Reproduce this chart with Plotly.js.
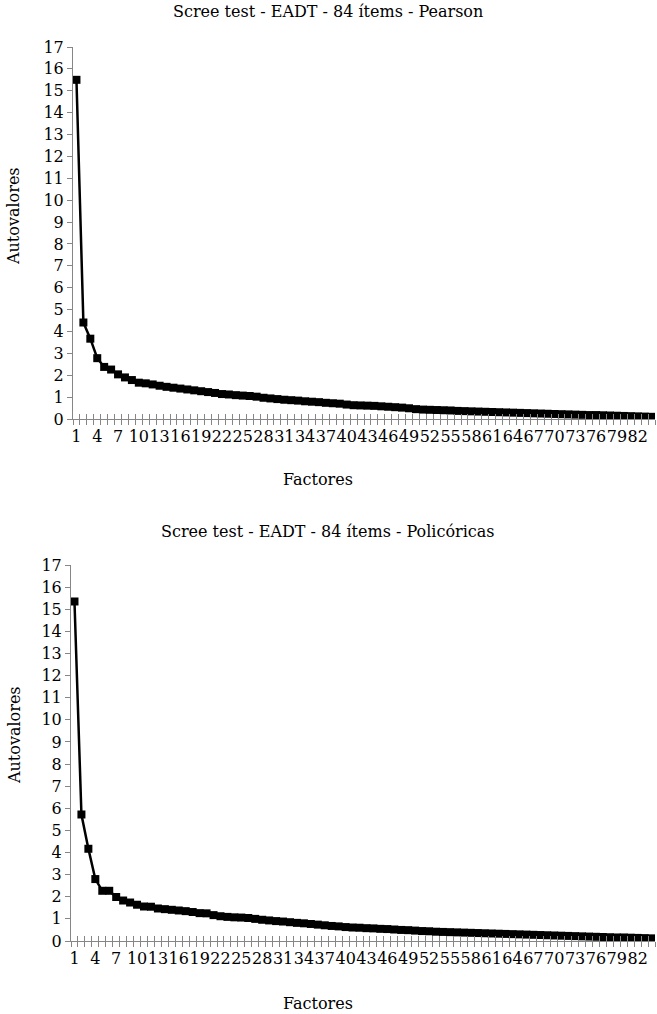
<!DOCTYPE html>
<html>
<head>
<meta charset="utf-8">
<script src="https://cdn.plot.ly/plotly-3.0.1.min.js"></script>
<style>html,body{margin:0;padding:0;background:#fff;}#chart{width:657px;height:1014px;}</style>
</head>
<body>
<div id="chart"></div>
<script>
// Factor numbers (categories)
const factors = [1,2,3,4,5,6,7,8,9,10,11,12,13,14,15,16,17,18,19,20,21,22,23,24,25,26,27,28,29,30,
  31,32,33,34,35,36,37,38,39,40,41,42,43,44,45,46,47,48,49,50,51,52,53,54,55,56,57,58,59,60,
  61,62,63,64,65,66,67,68,69,70,71,72,73,74,75,76,77,78,79,80,81,82,83,84];

// Eigenvalues - Pearson correlations
const pearson = [15.50,4.41,3.67,2.78,2.38,2.26,2.04,1.90,1.78,1.66,1.63,1.58,1.52,1.47,1.43,1.39,1.35,1.31,1.27,1.23,
  1.19,1.14,1.12,1.09,1.07,1.05,1.02,0.97,0.94,0.91,0.88,0.86,0.84,0.81,0.79,0.77,0.74,0.72,0.70,0.66,
  0.63,0.62,0.61,0.60,0.58,0.56,0.54,0.52,0.49,0.45,0.43,0.42,0.41,0.40,0.39,0.37,0.36,0.35,0.34,0.33,
  0.32,0.31,0.30,0.29,0.28,0.27,0.26,0.25,0.24,0.23,0.22,0.21,0.20,0.19,0.18,0.18,0.17,0.16,0.15,0.14,
  0.13,0.12,0.11,0.10];

// Eigenvalues - Polychoric correlations
const policoricas = [15.35,5.72,4.17,2.80,2.27,2.27,1.99,1.83,1.74,1.64,1.56,1.55,1.47,1.44,1.41,1.38,1.35,1.31,1.26,1.25,
  1.17,1.12,1.09,1.07,1.06,1.04,1.00,0.96,0.93,0.90,0.88,0.85,0.82,0.80,0.77,0.74,0.71,0.68,0.66,0.63,
  0.61,0.60,0.58,0.57,0.55,0.54,0.52,0.50,0.49,0.47,0.45,0.44,0.42,0.41,0.40,0.39,0.38,0.37,0.36,0.35,
  0.34,0.33,0.32,0.31,0.30,0.29,0.28,0.27,0.26,0.25,0.24,0.23,0.22,0.21,0.20,0.19,0.18,0.17,0.16,0.16,
  0.15,0.14,0.13,0.12];

// Tick labels shown on the category axis
const xTickLabels = [1,4,7,10,13,16,19,22,25,28,31,34,37,40,43,46,49,52,55,58,61,64,67,70,73,76,79,82];

const titleTop = 'Scree test - EADT - 84 ítems - Pearson';
const titleBottom = 'Scree test - EADT - 84 ítems - Policóricas';
const xTitle = 'Factores';
const yTitle = 'Autovalores';

const W = 657, H = 1014;
const FONT = 'DejaVu Serif';
const AXC = '#868686';
const boundaries = factors.map(f => f - 0.5).concat([factors[factors.length-1] + 0.5]);
const xr = [0.5, factors.length + 0.5];

function px2x(p){ return p / W; }
function px2y(p){ return 1 - p / H; }

function mainTrace(y, xa, ya){
  return {x: factors, y: y, xaxis: xa, yaxis: ya, type: 'scatter', mode: 'lines+markers',
    line: {color: '#000', width: 2.5}, marker: {symbol: 'square', size: 8, color: '#000'},
    showlegend: false, hoverinfo: 'x+y'};
}
function ghost(y, xa, ya){
  return {x: factors, y: y, xaxis: xa, yaxis: ya, type: 'scatter', mode: 'lines',
    line: {color: 'rgba(0,0,0,0)', width: 0}, showlegend: false, hoverinfo: 'skip'};
}

const data = [
  ghost(pearson, 'x3', 'y'),
  ghost(policoricas, 'x4', 'y2'),
  mainTrace(pearson, 'x', 'y'),
  mainTrace(policoricas, 'x2', 'y2')
];

function labelAxis(domain, anchor){
  return {domain: domain, anchor: anchor, range: xr, tickmode: 'array',
    tickvals: xTickLabels, ticktext: xTickLabels.map(String), ticks: '', tickangle: 0,
    ticklabelstandoff: 3,
    showline: true, linecolor: AXC, linewidth: 1, showgrid: false, zeroline: false,
    tickfont: {family: FONT, size: 16, color: '#000'},
    minor: {tickmode: 'array', tickvals: boundaries, ticks: 'outside', ticklen: 5, tickcolor: AXC, tickwidth: 1},
    fixedrange: true};
}
function tickAxis(domain, anchor, over){
  return {domain: domain, anchor: anchor, overlaying: over, range: xr, tickmode: 'array',
    tickvals: boundaries, ticks: 'inside', ticklen: 5, tickcolor: AXC, tickwidth: 1,
    showticklabels: false, showline: false, showgrid: false, zeroline: false, fixedrange: true};
}
function yAxis(domain, anchor){
  return {domain: domain, anchor: anchor, range: [0, 17], tickmode: 'linear', tick0: 0, dtick: 1,
    ticks: 'outside', ticklen: 5, tickcolor: AXC, tickwidth: 1,
    showline: true, linecolor: AXC, linewidth: 1, showgrid: false, zeroline: false,
    tickfont: {family: FONT, size: 16, color: '#000'}, fixedrange: true};
}

const xdTop = [px2x(73), px2x(655)];
const xdBot = [px2x(71), px2x(655)];
const ydTop = [px2y(419), px2y(47)];
const ydBot = [px2y(941), px2y(565)];

function ann(text, xpx, ypx, size, angle){
  return {text: text, xref: 'paper', yref: 'paper', x: px2x(xpx), y: px2y(ypx),
    xanchor: 'center', yanchor: 'middle', showarrow: false, textangle: angle || 0,
    font: {family: FONT, size: size, color: '#000'}};
}

const layout = {
  width: W, height: H, margin: {l: 0, r: 0, t: 0, b: 0},
  paper_bgcolor: '#fff', plot_bgcolor: '#fff', showlegend: false,
  xaxis: labelAxis(xdTop, 'y'),
  xaxis2: labelAxis(xdBot, 'y2'),
  xaxis3: tickAxis(xdTop, 'y', 'x'),
  xaxis4: tickAxis(xdBot, 'y2', 'x2'),
  yaxis: yAxis(ydTop, 'x'),
  yaxis2: yAxis(ydBot, 'x2'),
  annotations: [
    ann(titleTop, 328, 12, 16),
    ann(xTitle, 318, 479, 16),
    ann(yTitle, 14, 216, 16, -90),
    ann(titleBottom, 328, 531, 16),
    ann(xTitle, 318, 1003, 16),
    ann(yTitle, 14, 735, 16, -90)
  ]
};

Plotly.newPlot('chart', data, layout, {displayModeBar: false, staticPlot: true});
</script>
</body>
</html>
